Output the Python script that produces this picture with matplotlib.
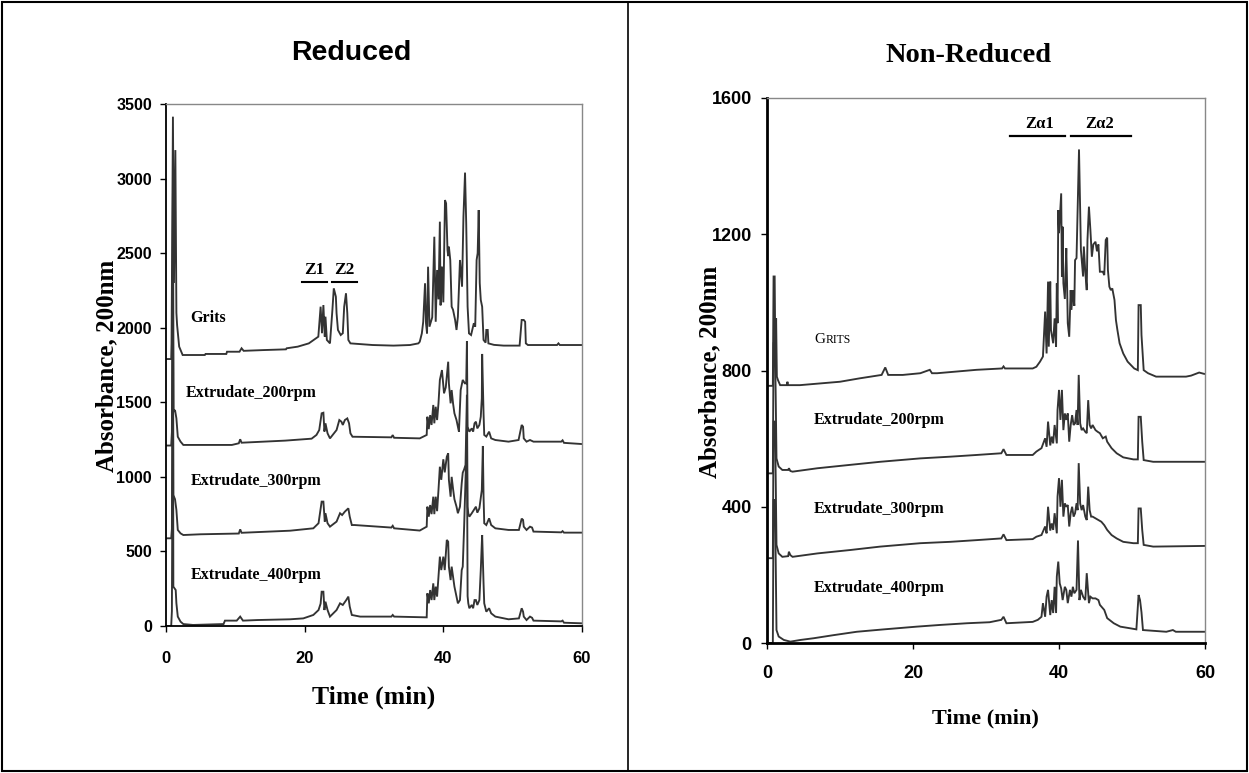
import matplotlib
matplotlib.use("Agg")
import matplotlib.pyplot as plt
from matplotlib.patches import Rectangle
from matplotlib.lines import Line2D

# ---------------- data: Reduced (left) ----------------
red_grits_t = [0, 0.75, 0.8, 1.0, 1.15, 1.35, 1.5, 1.6, 1.9, 2.4, 5.6, 5.7, 8.7, 8.8, 10.6, 10.9, 11.2, 14.0, 17.3, 17.4, 19.0, 20.6, 21.97, 22.3, 22.5, 22.7, 22.9, 23.0, 23.2, 23.65, 24.0, 24.2, 24.5, 24.6, 24.8, 25.2, 25.5, 25.7, 25.96, 26.15, 26.3, 26.6, 29.8, 32.8, 35.2, 36.4, 36.6, 36.9, 37.1, 37.36, 37.5, 37.65, 37.8, 38.0, 38.4, 38.7, 38.9, 39.1, 39.3, 39.5, 39.6, 39.8, 40.0, 40.24, 40.4, 40.6, 40.7, 40.8, 41.0, 41.2, 41.4, 41.7, 41.9, 42.1, 42.4, 42.7, 42.9, 43.13, 43.3, 43.5, 43.7, 44.0, 44.4, 44.6, 44.8, 44.95, 45.1, 45.25, 45.4, 45.6, 45.8, 46.1, 46.2, 46.4, 46.5, 47.3, 48.7, 51.0, 51.3, 51.6, 51.8, 51.9, 52.2, 56.4, 56.6, 56.8, 60]
red_grits_v = [1790, 1790, 1895, 3415, 2300, 3191, 2100, 2018, 1873, 1817, 1817, 1824, 1824, 1839, 1839, 1862, 1845, 1850, 1855, 1862, 1873, 1895, 1940, 2141, 1963, 2152, 1940, 2074, 1918, 1895, 2119, 2264, 2208, 2097, 1985, 1951, 1963, 2141, 2231, 2097, 1918, 1895, 1884, 1880, 1884, 1895, 1906, 1962, 2040, 2298, 2030, 1962, 2409, 2007, 2070, 2610, 2040, 2387, 2190, 2711, 2150, 2410, 2170, 2856, 2834, 2521, 2480, 2543, 2454, 2141, 2120, 2052, 1985, 2074, 2454, 2275, 2744, 3040, 2700, 2141, 1962, 1951, 2030, 2007, 2454, 2500, 2789, 2300, 2186, 2141, 1918, 1900, 1985, 1985, 1895, 1885, 1880, 1880, 2052, 2052, 2040, 1895, 1884, 1884, 1895, 1884, 1884]

red_200_t = [0, 0.75, 0.85, 1.0, 1.1, 1.3, 1.5, 1.7, 2.1, 2.5, 9.5, 10.5, 10.7, 10.9, 17.2, 21.0, 21.7, 22.1, 22.45, 22.7, 22.85, 23.0, 23.3, 23.65, 24.6, 25.0, 25.3, 25.5, 25.8, 26.15, 26.4, 26.6, 26.9, 32.5, 32.7, 32.9, 36.6, 37.6, 37.7, 37.9, 38.1, 38.3, 38.55, 38.7, 38.9, 39.1, 39.3, 39.5, 39.8, 40.1, 40.35, 40.7, 40.8, 41.05, 41.2, 41.4, 41.6, 41.9, 42.1, 42.25, 42.5, 42.8, 43.1, 43.3, 43.4, 43.5, 43.75, 44.1, 44.3, 44.5, 44.7, 44.9, 45.2, 45.4, 45.55, 45.6, 45.8, 45.9, 46.2, 46.6, 46.9, 47.5, 49.4, 50.85, 51.3, 51.5, 51.6, 52.0, 52.5, 53.0, 57.0, 57.2, 57.4, 60]
red_200_v = [1210, 1210, 1300, 2900, 1437, 1448, 1392, 1269, 1236, 1214, 1214, 1225, 1252, 1229, 1243, 1256, 1281, 1314, 1426, 1430, 1304, 1359, 1292, 1258, 1314, 1381, 1370, 1348, 1381, 1392, 1359, 1292, 1269, 1265, 1280, 1262, 1258, 1281, 1403, 1320, 1414, 1348, 1482, 1359, 1470, 1381, 1493, 1650, 1716, 1560, 1600, 1772, 1627, 1493, 1582, 1493, 1426, 1381, 1336, 1303, 1582, 1650, 1627, 1627, 1910, 1336, 1303, 1325, 1303, 1359, 1370, 1325, 1348, 1403, 1527, 1824, 1426, 1281, 1270, 1303, 1258, 1247, 1236, 1247, 1348, 1336, 1258, 1236, 1247, 1236, 1236, 1245, 1228, 1220]

red_300_t = [0, 0.75, 0.85, 1.0, 1.06, 1.3, 1.5, 1.7, 2.1, 2.5, 5.0, 10.5, 10.7, 10.9, 17.9, 21.25, 22.0, 22.45, 22.7, 22.9, 23.0, 23.3, 23.65, 24.6, 25.1, 25.4, 25.8, 26.3, 26.5, 26.8, 27.2, 32.5, 32.7, 32.9, 36.6, 37.6, 37.7, 37.9, 38.1, 38.3, 38.55, 38.7, 38.9, 39.1, 39.3, 39.5, 39.7, 40.0, 40.2, 40.5, 40.7, 40.8, 41.05, 41.2, 41.4, 41.6, 41.9, 42.1, 42.4, 42.65, 42.8, 43.0, 43.2, 43.4, 43.5, 43.6, 43.75, 44.1, 44.4, 44.7, 44.9, 45.2, 45.55, 45.7, 45.8, 45.9, 46.2, 46.6, 46.9, 47.5, 49.4, 50.9, 51.3, 51.5, 51.6, 52.0, 52.5, 52.8, 53.0, 57.0, 57.2, 57.4, 60]
red_300_v = [588, 588, 650, 2400, 878, 850, 778, 644, 621, 610, 615, 620, 648, 625, 639, 655, 689, 834, 834, 700, 756, 689, 666, 700, 756, 744, 767, 789, 733, 677, 677, 660, 672, 655, 640, 666, 800, 733, 811, 750, 867, 750, 867, 770, 912, 1068, 980, 1118, 1030, 1135, 1158, 980, 867, 1000, 920, 850, 800, 756, 800, 957, 1028, 1050, 1080, 1550, 800, 756, 733, 756, 778, 800, 760, 789, 912, 1207, 870, 689, 677, 722, 677, 655, 644, 644, 720, 711, 666, 644, 666, 660, 633, 628, 636, 626, 626]

red_400_t = [0, 0.75, 0.85, 1.0, 1.06, 1.4, 1.5, 1.7, 2.1, 2.5, 3.9, 8.3, 8.5, 10.2, 10.7, 11.1, 13.2, 17.9, 19.8, 21.25, 22.0, 22.3, 22.45, 22.7, 22.85, 23.0, 23.3, 23.65, 24.6, 25.1, 25.5, 26.0, 26.3, 26.5, 26.8, 28.0, 32.5, 32.7, 32.9, 37.6, 37.7, 37.9, 38.1, 38.3, 38.55, 38.7, 38.9, 39.1, 39.3, 39.5, 39.7, 40.0, 40.2, 40.5, 40.7, 40.8, 41.05, 41.2, 41.4, 41.6, 41.9, 42.1, 42.4, 42.65, 42.8, 43.0, 43.4, 43.5, 43.6, 43.75, 44.1, 44.3, 44.5, 44.7, 44.9, 45.2, 45.4, 45.55, 45.6, 45.8, 45.9, 46.2, 46.6, 46.9, 47.5, 49.4, 50.9, 51.3, 51.5, 51.6, 52.0, 52.5, 52.8, 53.0, 57.0, 57.2, 57.4, 60]
red_400_v = [0, 0, 100, 1900, 264, 241, 152, 63, 29, 13, 7, 13, 36, 36, 63, 36, 40, 45, 51, 74, 107, 150, 230, 230, 107, 163, 107, 63, 107, 152, 141, 174, 197, 130, 74, 63, 63, 74, 63, 58, 219, 152, 241, 174, 286, 174, 264, 197, 331, 465, 375, 465, 375, 577, 565, 398, 308, 398, 331, 264, 197, 152, 174, 375, 398, 666, 1300, 200, 152, 119, 141, 119, 174, 174, 141, 174, 375, 554, 610, 286, 152, 96, 119, 85, 63, 45, 51, 119, 96, 63, 40, 63, 55, 36, 31, 36, 22, 18]

# ---------------- data: Non-Reduced (right) ----------------
nr_grits_t = [0, 0.8, 0.9, 1.05, 1.15, 1.25, 1.35, 1.5, 1.8, 2.7, 2.8, 2.9, 4.5, 10.0, 12.7, 15.7, 16.2, 16.6, 18.6, 21.0, 22.3, 22.6, 23.3, 28.7, 32.2, 32.4, 32.6, 36.4, 36.9, 37.4, 37.8, 38.1, 38.3, 38.5, 38.6, 38.8, 38.9, 39.2, 39.4, 39.6, 39.7, 39.8, 39.9, 40.0, 40.3, 40.4, 40.5, 40.6, 40.8, 41.0, 41.1, 41.2, 41.4, 41.6, 41.7, 41.9, 42.1, 42.2, 42.4, 42.74, 42.9, 43.0, 43.3, 43.4, 43.6, 43.8, 43.9, 44.1, 44.3, 44.5, 44.7, 45.0, 45.2, 45.4, 45.6, 46.0, 46.2, 46.4, 46.6, 46.7, 46.9, 47.1, 47.3, 47.6, 47.8, 48.0, 48.3, 48.8, 49.4, 50.3, 50.8, 50.9, 51.2, 51.3, 51.6, 52.2, 53.3, 57.4, 58.1, 59.2, 59.9, 60]
nr_grits_v = [755, 755, 1076, 1076, 820, 953, 782, 772, 757, 757, 767, 757, 757, 767, 777, 787, 809, 787, 787, 792, 802, 792, 792, 802, 806, 812, 806, 806, 811, 826, 841, 973, 850, 1061, 870, 1061, 919, 880, 953, 870, 1056, 939, 1271, 1203, 1320, 1076, 1222, 1056, 1010, 1159, 1060, 939, 899, 1036, 978, 1036, 990, 1124, 1130, 1449, 1271, 1154, 1076, 1164, 1090, 1036, 1183, 1281, 1213, 1134, 1170, 1178, 1150, 1170, 1090, 1090, 1080, 1183, 1190, 1095, 1046, 1036, 1041, 1007, 948, 919, 880, 850, 826, 806, 801, 992, 992, 904, 801, 792, 782, 782, 785, 794, 790, 790]

nr_200_t = [0, 0.8, 0.9, 1.1, 1.3, 1.6, 2.1, 2.9, 3.0, 3.2, 3.5, 6.9, 11.4, 15.5, 21.0, 25.1, 28.7, 32.1, 32.4, 32.8, 36.4, 36.9, 37.6, 38.1, 38.3, 38.5, 38.8, 39.0, 39.2, 39.4, 39.7, 39.8, 40.0, 40.2, 40.4, 40.6, 40.8, 41.0, 41.2, 41.4, 41.6, 41.8, 42.0, 42.2, 42.4, 42.55, 42.7, 42.9, 43.1, 43.3, 43.6, 43.8, 44.0, 44.2, 44.4, 44.6, 45.0, 45.3, 45.6, 46.0, 46.4, 46.6, 47.2, 47.9, 48.8, 50.2, 50.8, 50.9, 51.2, 51.4, 51.6, 52.9, 60]
nr_200_v = [498, 498, 880, 880, 542, 518, 508, 508, 513, 505, 503, 513, 523, 532, 542, 547, 552, 557, 569, 552, 552, 562, 572, 601, 576, 650, 580, 606, 586, 640, 586, 684, 743, 655, 743, 625, 674, 655, 674, 591, 640, 669, 640, 645, 684, 640, 787, 645, 625, 630, 620, 616, 713, 640, 630, 640, 625, 620, 616, 601, 606, 591, 572, 557, 545, 539, 539, 664, 664, 591, 537, 532, 532]

nr_300_t = [0, 0.8, 0.9, 1.1, 1.3, 1.6, 2.1, 2.9, 3.0, 3.2, 3.5, 6.9, 11.4, 15.5, 21.0, 25.1, 28.7, 32.1, 32.4, 32.8, 36.4, 36.9, 37.6, 38.1, 38.3, 38.5, 38.8, 39.0, 39.2, 39.4, 39.7, 39.8, 40.0, 40.2, 40.4, 40.6, 40.8, 41.0, 41.2, 41.4, 41.6, 41.8, 42.0, 42.2, 42.4, 42.55, 42.7, 42.9, 43.1, 43.3, 43.6, 43.8, 44.0, 44.2, 44.4, 44.6, 45.0, 45.4, 45.8, 46.2, 46.6, 47.2, 47.9, 48.8, 50.2, 50.8, 50.9, 51.2, 51.4, 51.6, 52.9, 60]
nr_300_v = [249, 249, 650, 650, 288, 263, 253, 255, 268, 258, 253, 263, 273, 283, 293, 297, 302, 307, 319, 302, 305, 312, 317, 342, 322, 400, 330, 351, 332, 381, 322, 430, 484, 400, 479, 371, 410, 400, 405, 342, 381, 400, 371, 381, 410, 390, 528, 410, 390, 405, 371, 361, 459, 390, 371, 371, 366, 361, 356, 346, 332, 317, 307, 297, 293, 293, 395, 395, 332, 288, 283, 285]

nr_400_t = [0, 0.8, 0.9, 1.1, 1.3, 1.6, 2.3, 3.2, 4.6, 6.4, 9.1, 12.3, 16.0, 20.5, 23.7, 27.4, 30.5, 32.1, 32.4, 32.8, 36.4, 37.1, 37.6, 37.8, 38.1, 38.3, 38.5, 38.8, 39.0, 39.2, 39.4, 39.6, 39.7, 39.9, 40.1, 40.3, 40.5, 40.8, 41.0, 41.2, 41.5, 41.7, 41.9, 42.1, 42.4, 42.6, 42.8, 43.0, 43.3, 43.6, 43.8, 44.1, 44.3, 44.6, 45.0, 45.4, 45.6, 46.0, 46.2, 46.6, 47.5, 48.4, 49.8, 50.6, 50.9, 51.1, 51.3, 51.5, 54.7, 55.6, 56.0, 60]
nr_400_v = [0, 0, 420, 420, 38, 19, 9, 4, 9, 14, 23, 33, 40, 48, 53, 58, 61, 68, 77, 58, 62, 68, 77, 117, 77, 136, 156, 82, 126, 88, 165, 88, 195, 239, 175, 160, 126, 165, 156, 117, 156, 136, 165, 146, 156, 301, 126, 156, 136, 126, 205, 117, 136, 131, 131, 126, 112, 102, 97, 73, 58, 48, 43, 40, 141, 126, 90, 38, 33, 38, 33, 33]

red_labels = ["Grits", "Extrudate_200rpm", "Extrudate_300rpm", "Extrudate_400rpm"]
red_label_pos = [(3.46, 2068), (2.88, 1562), (3.56, 972), (3.56, 342)]
nr_labels = ["Extrudate_200rpm", "Extrudate_300rpm", "Extrudate_400rpm"]
nr_label_pos = [(6.44, 655), (6.44, 393), (6.44, 161)]

red_yticks = [0, 500, 1000, 1500, 2000, 2500, 3000, 3500]
nr_yticks = [0, 400, 800, 1200, 1600]
xticks = [0, 20, 40, 60]

# ---------------- figure ----------------
W, H = 1249, 773
fig = plt.figure(figsize=(W / 100, H / 100), dpi=100)
fig.patch.set_facecolor("white")

SANS = "Liberation Sans"
SERIF = "Liberation Serif"
LINEC = "#333333"

axL = fig.add_axes([166 / W, 1 - 626 / H, (582 - 166) / W, (626 - 104) / H])
axR = fig.add_axes([767 / W, 1 - 643 / H, (1205 - 767) / W, (643 - 98) / H])

for t, v in [(red_grits_t, red_grits_v), (red_200_t, red_200_v),
             (red_300_t, red_300_v), (red_400_t, red_400_v)]:
    axL.plot(t, v, color=LINEC, lw=1.35, solid_joinstyle="miter")
for t, v in [(nr_grits_t, nr_grits_v), (nr_200_t, nr_200_v),
             (nr_300_t, nr_300_v), (nr_400_t, nr_400_v)]:
    axR.plot(t, v, color=LINEC, lw=1.35, solid_joinstyle="miter")

axL.set_xlim(0, 60)
axL.set_ylim(0, 3500)
axR.set_xlim(0, 60)
axR.set_ylim(0, 1600)
axL.set_xticks(xticks)
axL.set_yticks(red_yticks)
axR.set_xticks(xticks)
axR.set_yticks(nr_yticks)

for ax, xfs, yfs, xpad, ypad, slw in [(axL, 12, 11.5, 14, 6, 1.3), (axR, 13, 13, 12, 7, 2.0)]:
    ax.tick_params(axis="both", direction="out", length=4, width=1, colors="black")
    ax.tick_params(axis="x", pad=xpad)
    ax.tick_params(axis="y", pad=ypad)
    for lab in ax.get_xticklabels():
        lab.set_fontfamily(SANS)
        lab.set_fontweight("bold")
        lab.set_fontsize(xfs)
    for lab in ax.get_yticklabels():
        lab.set_fontfamily(SANS)
        lab.set_fontweight("bold")
        lab.set_fontsize(yfs)
    ax.spines["left"].set_linewidth(slw)
    ax.spines["bottom"].set_linewidth(slw)
    ax.spines["top"].set_color("#888888")
    ax.spines["right"].set_color("#888888")
    ax.spines["top"].set_linewidth(1.0)
    ax.spines["right"].set_linewidth(1.0)

# trace labels
for s, (x, y) in zip(red_labels, red_label_pos):
    axL.text(x, y, s, fontfamily=SERIF, fontweight="bold", fontsize=11.5,
             ha="left", va="center")
for s, (x, y) in zip(nr_labels, nr_label_pos):
    axR.text(x, y, s, fontfamily=SERIF, fontweight="bold", fontsize=11.5,
             ha="left", va="center")
g = axR.text(6.48, 890, "G", fontfamily=SERIF, fontsize=11, ha="left", va="center")
axR.annotate("RITS", xy=(1.0, 0.0), xycoords=g, fontfamily=SERIF, fontsize=8.5,
             ha="left", va="bottom")

# zein band markers
axL.text(21.4, 2330, "Z1", fontfamily=SERIF, fontweight="bold", fontsize=12.5,
         ha="center", va="bottom")
axL.text(25.7, 2330, "Z2", fontfamily=SERIF, fontweight="bold", fontsize=12.5,
         ha="center", va="bottom")
axL.plot([19.6, 23.2], [2304, 2304], color="black", lw=1.5)
axL.plot([23.9, 27.5], [2304, 2304], color="black", lw=1.5)

axR.text(37.3, 1500, "Z\u03b11", fontfamily=SERIF, fontweight="bold", fontsize=12,
         ha="center", va="bottom")
axR.text(45.5, 1500, "Z\u03b12", fontfamily=SERIF, fontweight="bold", fontsize=12,
         ha="center", va="bottom")
axR.plot([33.3, 40.8], [1489, 1489], color="black", lw=1.6)
axR.plot([41.6, 49.9], [1489, 1489], color="black", lw=1.6)

# titles and axis labels
fig.text(351 / W, 1 - 53 / H, "Reduced", fontfamily=SANS, fontweight="bold",
         fontsize=20.5, ha="center", va="center")
fig.text(969 / W, 1 - 55 / H, "Non-Reduced", fontfamily=SERIF, fontweight="bold",
         fontsize=20.5, ha="center", va="center")
fig.text(107 / W, 1 - 366 / H, "Absorbance, 200nm", fontfamily=SERIF, fontweight="bold",
         fontsize=18, rotation=90, ha="center", va="center")
fig.text(710 / W, 1 - 372 / H, "Absorbance, 200nm", fontfamily=SERIF, fontweight="bold",
         fontsize=18, rotation=90, ha="center", va="center")
fig.text(374 / W, 1 - 697 / H, "Time (min)", fontfamily=SERIF, fontweight="bold",
         fontsize=18.5, ha="center", va="center")
fig.text(985 / W, 1 - 718 / H, "Time (min)", fontfamily=SERIF, fontweight="bold",
         fontsize=16, ha="center", va="center")

# outer frame and divider
fig.add_artist(Rectangle((2 / W, 2 / H), (W - 4) / W, (H - 4) / H,
                         transform=fig.transFigure, fill=False,
                         edgecolor="black", lw=1.5))
fig.add_artist(Line2D([628 / W, 628 / W], [2 / H, 1 - 2 / H],
                      transform=fig.transFigure, color="black", lw=1.2))

fig.savefig("out.png", dpi=100)
